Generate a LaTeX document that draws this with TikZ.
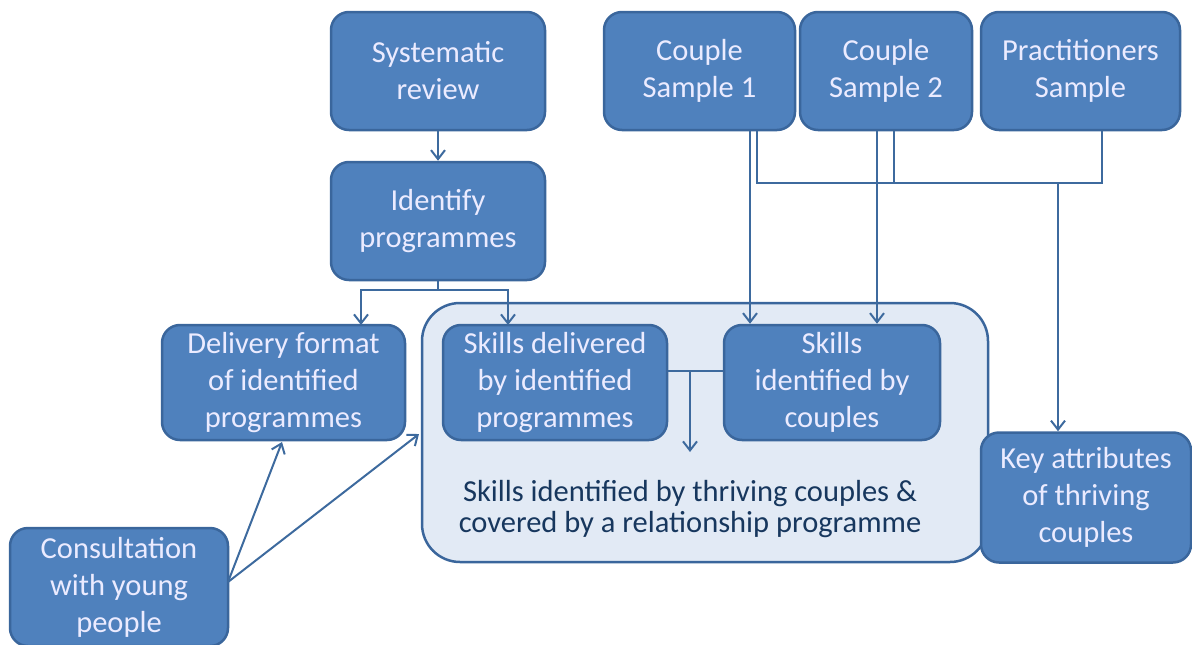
\documentclass[tikz,border=0pt]{standalone}
\usepackage{fontspec}
\setmainfont{Carlito}
\usetikzlibrary{arrows.meta}
\definecolor{boxfill}{HTML}{4F81BD}
\definecolor{boxline}{HTML}{3A669C}
\definecolor{bigfill}{HTML}{E2EAF5}
\definecolor{bigtext}{HTML}{17375E}
\definecolor{conn}{HTML}{3D6A9E}
\begin{document}
\begin{tikzpicture}[x=1pt,y=-1pt,
  bluebox/.style={draw=boxline, line width=2.5pt, fill=boxfill, rounded corners=18pt,
    text=white!92!blue, align=center, inner sep=0pt, font=\fontsize{30.5}{37}\selectfont},
  bigbox/.style={draw=boxline, line width=2.5pt, fill=bigfill, rounded corners=38pt, inner sep=0pt},
  conn/.style={draw=conn, line width=2pt},
  arr/.style={conn, -{Straight Barb[length=9pt,width=14pt,line width=2pt]}}]
\useasboundingbox (0,0) rectangle (1192,645);
\node[bigbox, minimum width=566pt, minimum height=259pt] (big) at (705,432.5) {};
\node[bluebox, minimum width=214pt, minimum height=118pt] (sys) at (438,71) {Systematic\\review};
\node[bluebox, minimum width=214pt, minimum height=118pt] (idp) at (438,221) {Identify\\programmes};
\node[bluebox, minimum width=191pt, minimum height=118pt] (cs1) at (699.5,71) {Couple\\Sample 1};
\node[bluebox, minimum width=172pt, minimum height=118pt] (cs2) at (886,71) {Couple\\Sample 2};
\node[bluebox, minimum width=199pt, minimum height=118pt] (ps) at (1080.5,71) {Practitioners\\Sample};
\node[bluebox, minimum width=243pt, minimum height=115pt] (del) at (283.5,382.5) {Delivery format\\of identified\\programmes};
\node[bluebox, minimum width=224pt, minimum height=115pt] (sd) at (555,382.5) {Skills delivered\\by identified\\programmes};
\node[bluebox, minimum width=216pt, minimum height=115pt] (sc) at (832,382.5) {Skills\\identified by\\couples};
\node[bluebox, minimum width=210pt, minimum height=130pt] (key) at (1086,497.5) {Key attributes\\of thriving\\couples};
\node[bluebox, minimum width=218pt, minimum height=118pt] (con) at (119,587) {Consultation\\with young\\people};
\node[text=bigtext, align=center, font=\fontsize{30.5}{31}\selectfont] (bt) at (690,509) {Skills identified by thriving couples \&\\covered by a relationship programme};
% connectors
\draw[arr] (sys.south) -- (idp.north);
\coordinate (j1) at (438,290);
\draw[conn] (idp.south) -- (j1);
\draw[arr] (j1) -| (361,325);
\draw[arr] (j1) -| (508,325);
\draw[arr] (cs1.south -| 750,0) -- (sc.north -| 750,0);
\draw[arr] (cs2.south -| 877,0) -- (sc.north -| 877,0);
\coordinate (h1) at (757,183);
\coordinate (h2) at (1102,183);
\draw[conn] (cs1.south -| 757,0) -- (h1) -- (h2) -- (ps.south -| 1102,0);
\draw[conn] (cs2.south -| 894,0) -- (894,183);
\draw[arr] (1058,183) -- (key.north -| 1058,0);
\coordinate (m) at (690,371);
\draw[conn] (sd.east |- m) -- (sc.west |- m);
\draw[arr] (m) -- (690,452);
\coordinate (cp) at (228,582);
\draw[arr] (cp) -- (282,442);
\draw[arr] (cp) -- (419,434);
\end{tikzpicture}
\end{document}
